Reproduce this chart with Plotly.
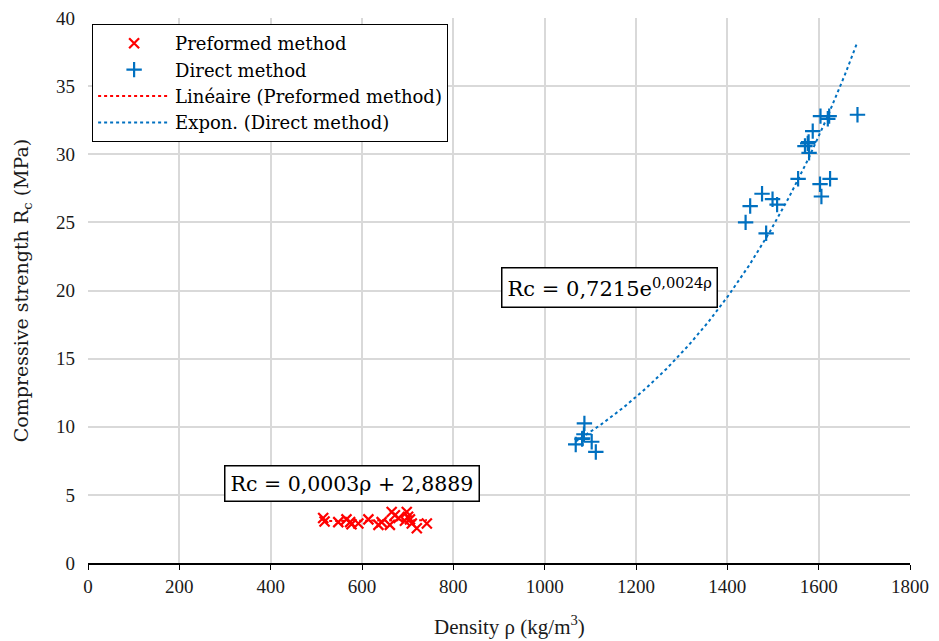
import numpy as np
import plotly.graph_objects as go

# Preformed method data (density kg/m3, strength MPa)
pre_density = [515, 518, 548, 566, 574, 577, 592, 614, 636, 643, 661, 665, 672, 680,
               694, 698, 701, 705, 709, 720, 742]
pre_strength = [3.3, 3.05, 3.0, 3.2, 3.0, 2.85, 2.9, 3.2, 2.8, 3.0, 2.8, 3.75, 3.5, 3.3,
                3.1, 3.75, 3.4, 3.2, 2.9, 2.55, 2.9]

# Direct method data
dir_density = [1068, 1082, 1083, 1086, 1087, 1103, 1112,
               1440, 1450, 1476, 1485, 1499, 1509, 1555, 1570, 1576, 1578, 1579,
               1587, 1603, 1604, 1606, 1620, 1623, 1625, 1685]
dir_strength = [8.7, 9.1, 9.15, 9.45, 10.25, 8.9, 8.15,
                25.0, 26.2, 27.1, 24.2, 26.7, 26.3, 28.2, 30.6, 30.8, 30.9, 30.1,
                31.7, 27.8, 32.8, 26.9, 32.6, 32.8, 28.2, 32.9]

x_ticks = [0, 200, 400, 600, 800, 1000, 1200, 1400, 1600, 1800]
y_ticks = [0, 5, 10, 15, 20, 25, 30, 35, 40]

SERIF = "DejaVu Serif"
TICKFONT = "Liberation Serif"
RED = "#FF0000"
BLUE = "#0070C0"

# Trend lines (least squares, like the spreadsheet trendlines)
pre_x = np.array(pre_density, float)
pre_y = np.array(pre_strength, float)
lin = np.polyfit(pre_x, pre_y, 1)
lin_x = np.linspace(pre_x.min(), pre_x.max(), 50)
lin_y = np.polyval(lin, lin_x)

dx = np.array(dir_density, float)
dy = np.array(dir_strength, float)
ex = np.polyfit(dx, np.log(dy), 1)
exp_x = np.linspace(dx.min(), dx.max(), 200)
exp_y = np.exp(np.polyval(ex, exp_x))

fig = go.Figure()
fig.add_trace(go.Scatter(
    x=pre_density, y=pre_strength, mode="markers", name="Preformed method",
    marker=dict(symbol="x-thin", size=10, line=dict(color=RED, width=2.2), color=RED)))
fig.add_trace(go.Scatter(
    x=dir_density, y=dir_strength, mode="markers", name="Direct method",
    marker=dict(symbol="cross-thin", size=11, line=dict(color=BLUE, width=2.2), color=BLUE)))
fig.add_trace(go.Scatter(
    x=lin_x, y=lin_y, mode="lines", name="Linéaire (Preformed method)",
    line=dict(color=RED, width=2, dash="dot")))
fig.add_trace(go.Scatter(
    x=exp_x, y=exp_y, mode="lines", name="Expon. (Direct method)",
    line=dict(color=BLUE, width=2, dash="dot")))

fig.add_annotation(x=578, y=5.8, xref="x", yref="y", showarrow=False,
                   text="Rc = 0,0003ρ + 2,8889",
                   font=dict(family=SERIF, size=20.5, color="black"),
                   bordercolor="black", borderwidth=1.5, borderpad=5, bgcolor="white")
fig.add_annotation(x=1143, y=20.2, xref="x", yref="y", showarrow=False,
                   text="Rc = 0,7215e<sup>0,0024ρ</sup>",
                   font=dict(family=SERIF, size=21, color="black"),
                   bordercolor="black", borderwidth=1.5, borderpad=5, bgcolor="white")

# x-axis title, placed slightly right of centre as in the original
fig.add_annotation(x=0.513, y=-0.115, xref="paper", yref="paper", showarrow=False,
                   xanchor="center", yanchor="middle",
                   text="Density ρ (kg/m<sup>3</sup>)",
                   font=dict(family=TICKFONT, size=21, color="#1a1a1a"))

# The page body adds an 8px margin around the figure, so the figure is made
# 8px smaller and its top/left margins reduced to keep the plot area in place.
fig.update_layout(
    width=931, height=633,
    margin=dict(l=80, r=29, t=10, b=78, autoexpand=False),
    paper_bgcolor="white", plot_bgcolor="white",
    font=dict(family=SERIF, size=18, color="#1a1a1a"),
    showlegend=True,
    legend=dict(x=0.005, y=0.989, xanchor="left", yanchor="top",
                bgcolor="white", bordercolor="black", borderwidth=1,
                font=dict(family=SERIF, size=18, color="black"),
                tracegroupgap=0, itemwidth=72),
    xaxis=dict(range=[0, 1800], tickvals=x_ticks, ticktext=[str(v) for v in x_ticks],
               tickfont=dict(family=TICKFONT, size=19, color="#1a1a1a"),
               showgrid=True, gridcolor="#D9D9D9", gridwidth=2,
               showline=True, linecolor="black", linewidth=2,
               ticks="outside", ticklen=5, tickcolor="black",
               zeroline=False, automargin=False, ticklabeloverflow="allow"),
    yaxis=dict(range=[0, 40], tickvals=y_ticks, ticktext=[str(v) for v in y_ticks],
               tickfont=dict(family=TICKFONT, size=19, color="#1a1a1a"),
               showgrid=True, gridcolor="#D9D9D9", gridwidth=2,
               showline=False, zeroline=False, ticks="", ticklabelstandoff=12,
               automargin=False, ticklabeloverflow="allow",
               title=dict(text="Compressive strength R<sub>c</sub> (MPa)",
                          font=dict(family=SERIF, size=19, color="#1a1a1a"), standoff=22)),
)

fig.write_html("out.html")
